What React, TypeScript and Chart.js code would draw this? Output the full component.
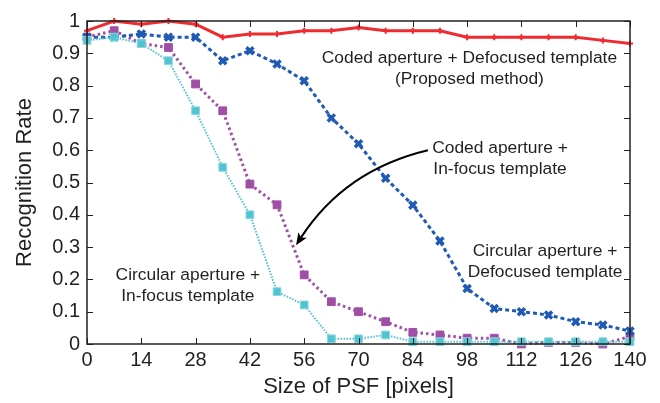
import React, { useEffect, useRef } from "react";
import { Chart, registerables } from "chart.js";

Chart.register(...registerables);

// Size of PSF [pixels]
const psfSizes = [0, 7, 14, 21, 28, 35, 42, 49, 56, 63, 70, 77, 84, 91, 98, 105, 112, 119, 126, 133, 140];

// Coded aperture + Defocused template (Proposed method)
const codedDefocused = [0.97, 1.0, 0.99, 1.0, 0.99, 0.95, 0.96, 0.96, 0.97, 0.97, 0.98, 0.97, 0.97, 0.97, 0.95, 0.95, 0.95, 0.95, 0.95, 0.94, 0.93];
// Circular aperture + Defocused template
const circularDefocused = [0.95, 0.95, 0.96, 0.95, 0.95, 0.877, 0.908, 0.867, 0.815, 0.70, 0.62, 0.513, 0.43, 0.319, 0.172, 0.11, 0.10, 0.09, 0.069, 0.059, 0.04];
// Coded aperture + In-focus template
const codedInFocus = [0.95, 0.97, 0.93, 0.918, 0.805, 0.722, 0.495, 0.431, 0.214, 0.131, 0.10, 0.069, 0.036, 0.028, 0.018, 0.018, 0.0, 0.005, 0.005, 0.0, 0.023];
// Circular aperture + In-focus template
const circularInFocus = [0.94, 0.95, 0.93, 0.877, 0.722, 0.547, 0.40, 0.162, 0.121, 0.016, 0.016, 0.028, 0.007, 0.007, 0.007, 0.007, 0.007, 0.007, 0.007, 0.007, 0.007];

const xTitle = "Size of PSF [pixels]";
const yTitle = "Recognition Rate";

// Annotation texts, anchored in data coordinates
const labelTexts = [
  { lines: ["Coded aperture + Defocused template", "(Proposed method)"], x: 98.6, y: 0.885 },
  { lines: ["Coded aperture +", "In-focus template"], x: 106.5, y: 0.607 },
  { lines: ["Circular aperture +", "Defocused template"], x: 118.1, y: 0.288 },
  { lines: ["Circular aperture +", "In-focus template"], x: 26, y: 0.214 },
];
// Curved arrow: start, control, end (data coordinates)
const arrowPath = { x0: 87.9, y0: 0.60, cx: 66.5, cy: 0.539, x1: 53.9, y1: 0.306 };

const INK = "#231f20";
const FONT = "'Liberation Sans', Arial, Helvetica, sans-serif";

const toPoints = (ys: number[]) => ys.map((y, i) => ({ x: psfSizes[i], y }));

const framePlugin = {
  id: "frameAndNotes",
  afterDatasetsDraw(chart: any) {
    const { ctx, chartArea: a, scales } = chart;
    const xs = scales.x;
    const ys = scales.y;
    ctx.save();
    // box
    ctx.strokeStyle = INK;
    ctx.lineWidth = 1.5;
    ctx.strokeRect(a.left, a.top, a.right - a.left, a.bottom - a.top);
    // inward ticks
    ctx.lineWidth = 1;
    const tl = 6;
    ctx.beginPath();
    xs.ticks.forEach((t: any) => {
      const px = Math.round(xs.getPixelForValue(t.value)) + 0.5;
      ctx.moveTo(px, a.bottom);
      ctx.lineTo(px, a.bottom - tl);
      ctx.moveTo(px, a.top);
      ctx.lineTo(px, a.top + tl);
    });
    ys.ticks.forEach((t: any) => {
      const py = Math.round(ys.getPixelForValue(t.value)) + 0.5;
      ctx.moveTo(a.left, py);
      ctx.lineTo(a.left + tl, py);
      ctx.moveTo(a.right, py);
      ctx.lineTo(a.right - tl, py);
    });
    ctx.stroke();

    // annotation texts
    ctx.fillStyle = INK;
    ctx.font = `17.4px ${FONT}`;
    ctx.textAlign = "center";
    ctx.textBaseline = "middle";
    labelTexts.forEach((l) => {
      const px = xs.getPixelForValue(l.x);
      const py = ys.getPixelForValue(l.y);
      l.lines.forEach((s, i) => ctx.fillText(s, px, py + i * 21));
    });

    // arrow
    const p0x = xs.getPixelForValue(arrowPath.x0);
    const p0y = ys.getPixelForValue(arrowPath.y0);
    const pcx = xs.getPixelForValue(arrowPath.cx);
    const pcy = ys.getPixelForValue(arrowPath.cy);
    const p1x = xs.getPixelForValue(arrowPath.x1);
    const p1y = ys.getPixelForValue(arrowPath.y1);
    const ang = Math.atan2(p1y - pcy, p1x - pcx);
    const headLen = 12;
    const headW = 5;
    const bx = p1x - headLen * Math.cos(ang);
    const by = p1y - headLen * Math.sin(ang);
    ctx.strokeStyle = "#000";
    ctx.lineWidth = 2;
    ctx.beginPath();
    ctx.moveTo(p0x, p0y);
    ctx.quadraticCurveTo(pcx, pcy, bx + 3 * Math.cos(ang), by + 3 * Math.sin(ang));
    ctx.stroke();
    ctx.fillStyle = "#000";
    ctx.beginPath();
    ctx.moveTo(p1x, p1y);
    ctx.lineTo(bx - headW * Math.sin(ang), by + headW * Math.cos(ang));
    ctx.lineTo(bx + 3 * Math.cos(ang), by + 3 * Math.sin(ang));
    ctx.lineTo(bx + headW * Math.sin(ang), by - headW * Math.cos(ang));
    ctx.closePath();
    ctx.fill();
    ctx.restore();
  },
};

export default function App() {
  const ref = useRef<HTMLCanvasElement>(null);
  useEffect(() => {
    document.body.style.margin = "0";
    const cyan = "#52c3d0";
    const purple = "#a04fa6";
    const blue = "#1f5bb4";
    const red = "#ee2b2e";
    const chart = new Chart(ref.current as HTMLCanvasElement, {
      type: "line",
      data: {
        datasets: [
          {
            label: "Circular aperture + In-focus template",
            data: toPoints(circularInFocus),
            borderColor: cyan,
            backgroundColor: cyan,
            borderWidth: 2,
            borderDash: [1.5, 1.5],
            pointStyle: "rect",
            pointRadius: 5.5,
            pointBorderColor: "#8ad8e0",
            pointBorderWidth: 1,
            pointBackgroundColor: cyan,
            clip: false,
            order: 1,
          },
          {
            label: "Coded aperture + Defocused template",
            data: toPoints(codedDefocused),
            borderColor: red,
            backgroundColor: red,
            borderWidth: 3,
            pointStyle: "cross",
            pointRadius: 3,
            pointBorderWidth: 2,
            clip: false,
            order: 2,
          },
          {
            label: "Circular aperture + Defocused template",
            data: toPoints(circularDefocused),
            borderColor: blue,
            backgroundColor: blue,
            borderWidth: 3,
            borderDash: [4, 3],
            pointStyle: "crossRot",
            pointRadius: 5,
            pointBorderWidth: 3.5,
            clip: false,
            order: 3,
          },
          {
            label: "Coded aperture + In-focus template",
            data: toPoints(codedInFocus),
            borderColor: purple,
            backgroundColor: purple,
            borderWidth: 3,
            borderDash: [2.5, 3],
            pointStyle: "rect",
            pointRadius: 5.5,
            pointBorderWidth: 1,
            clip: false,
            order: 4,
          },
        ],
      },
      options: {
        animation: false,
        responsive: false,
        events: [],
        layout: { padding: { top: 21, right: 30, left: 0, bottom: 0 } },
        plugins: { legend: { display: false }, tooltip: { enabled: false } },
        elements: { line: { tension: 0 } },
        scales: {
          x: {
            type: "linear",
            min: 0,
            max: 140,
            ticks: { stepSize: 14, color: INK, font: { size: 20, family: FONT }, padding: 4, maxRotation: 0, autoSkip: false },
            grid: { display: false, drawTicks: false },
            border: { display: false },
            title: { display: true, text: xTitle, color: INK, font: { size: 22, family: FONT }, padding: { bottom: 3 } },
            afterFit: (s: any) => { s.height = 59; },
          },
          y: {
            type: "linear",
            min: 0,
            max: 1,
            ticks: {
              stepSize: 0.1,
              color: INK,
              font: { size: 20, family: FONT },
              padding: 7,
              callback: (v: any) => String(Number(Number(v).toFixed(1))),
            },
            grid: { display: false, drawTicks: false },
            border: { display: false },
            title: { display: true, text: yTitle, color: INK, font: { size: 22, family: FONT }, padding: { top: 12 } },
            afterFit: (s: any) => { s.width = 87; },
          },
        },
      },
      plugins: [framePlugin],
    } as any);
    return () => chart.destroy();
  }, []);
  return (
    <div style={{ width: 660, height: 403 }}>
      <canvas ref={ref} width={660} height={403} />
    </div>
  );
}
